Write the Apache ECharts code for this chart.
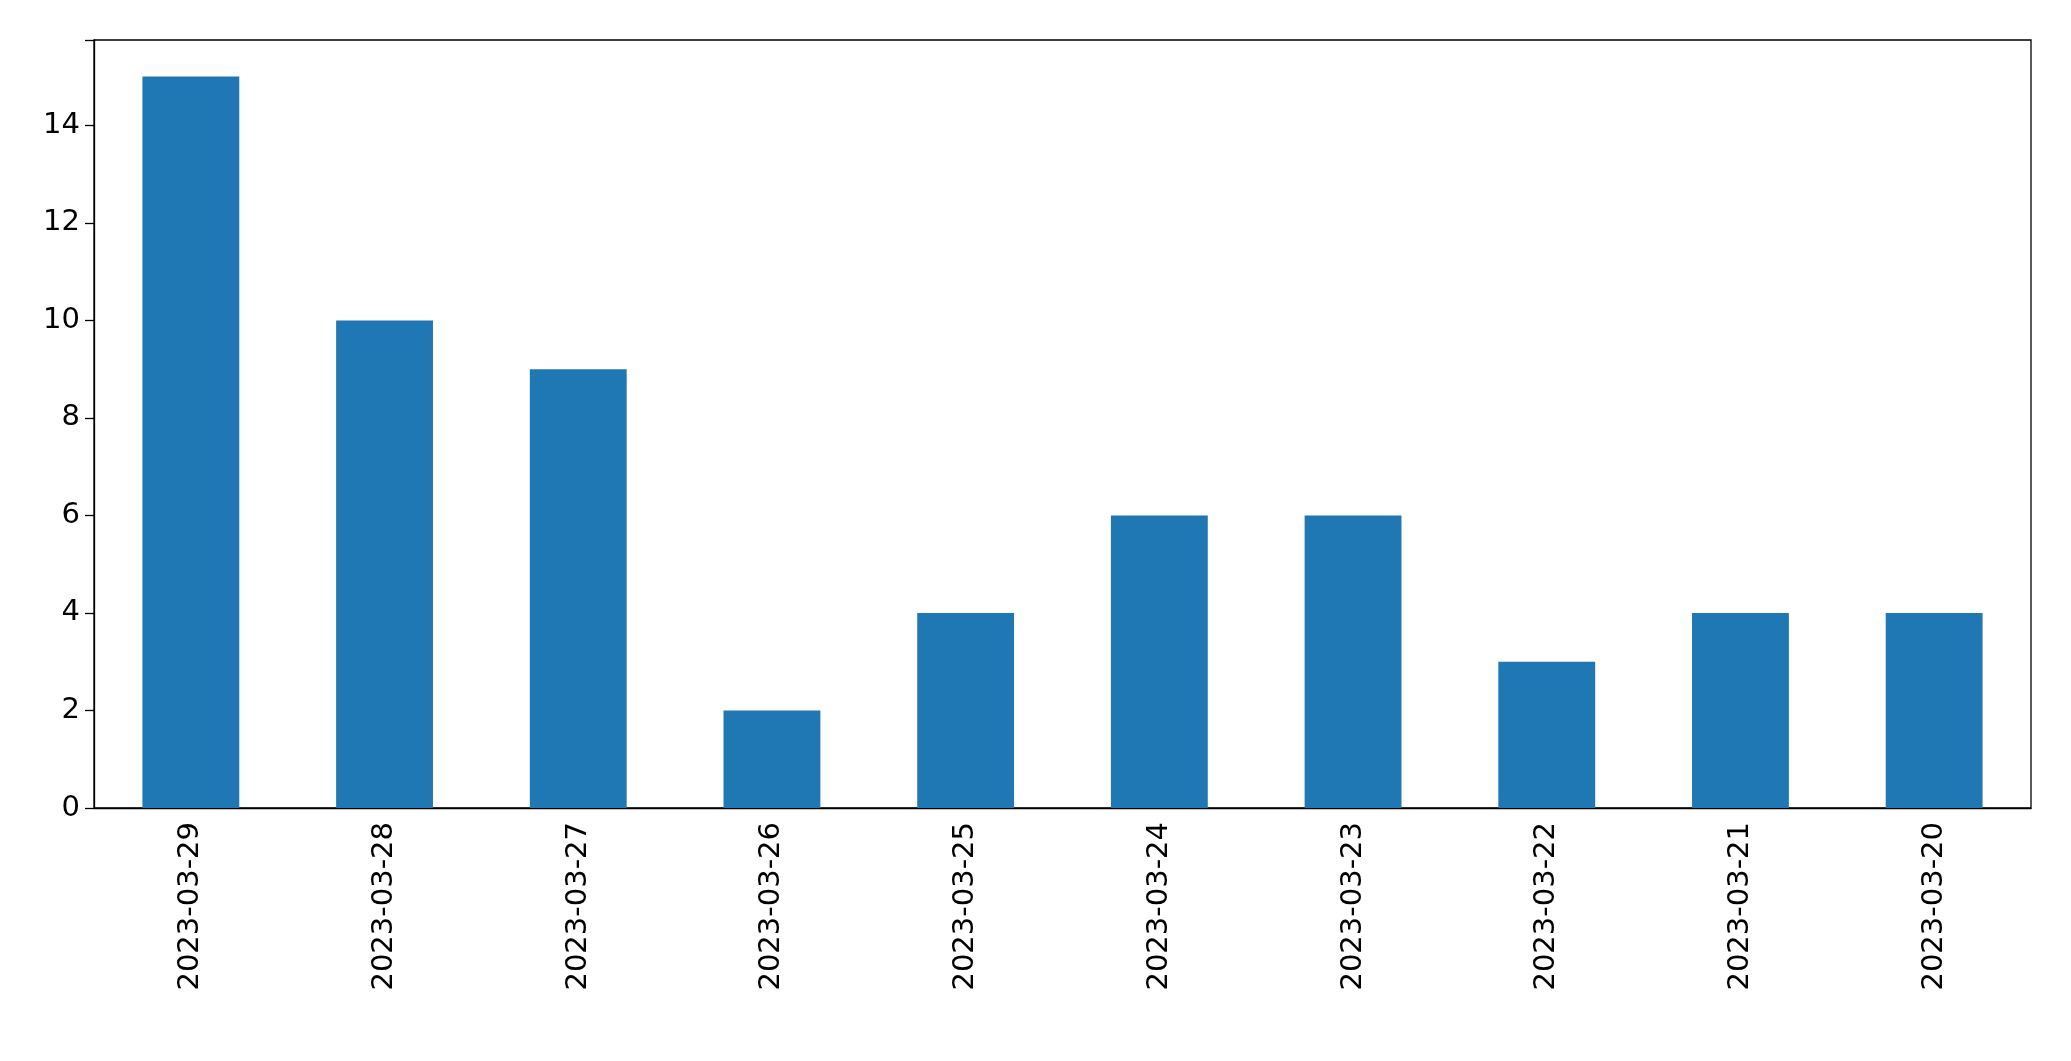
<!DOCTYPE html>
<html>
<head>
<meta charset="utf-8">
<script src="https://cdn.jsdelivr.net/npm/echarts@6/dist/echarts.min.js"></script>
<style>html,body{margin:0;padding:0;background:#fff}#main{width:2071px;height:1061px}</style>
</head>
<body>
<div id="main"></div>
<script>
// 日期与数量
var dates = ['2023-03-29','2023-03-28','2023-03-27','2023-03-26','2023-03-25','2023-03-24','2023-03-23','2023-03-22','2023-03-21','2023-03-20'];
var counts = [15, 10, 9, 2, 4, 6, 6, 3, 4, 4];

var chart = echarts.init(document.getElementById('main'));
chart.setOption({
    animation: false,
    grid: {
        left: 94, right: 40, top: 40, bottom: 253,
        show: true, borderColor: '#000', borderWidth: 1.3, backgroundColor: '#fff'
    },
    xAxis: {
        type: 'category',
        data: dates,
        axisLine: { lineStyle: { color: '#000', width: 1.3 } },
        axisTick: { alignWithLabel: true, length: 9, lineStyle: { color: '#000', width: 1.3 } },
        axisLabel: { rotate: 90, color: '#000', fontSize: 29, fontFamily: 'DejaVu Sans', margin: 14 }
    },
    yAxis: {
        type: 'value',
        min: 0, max: 15.75, interval: 2,
        splitLine: { show: false },
        axisLine: { show: true, lineStyle: { color: '#000', width: 1.3 } },
        axisTick: { show: true, length: 9, lineStyle: { color: '#000', width: 1.3 } },
        axisLabel: {
            color: '#000', fontSize: 29, fontFamily: 'DejaVu Sans', margin: 14,
            formatter: function (v) { return v % 2 === 0 ? String(v) : ''; }
        }
    },
    series: [{
        type: 'bar',
        data: counts,
        barWidth: '50%',
        itemStyle: { color: '#1f77b4' }
    }]
});
</script>
</body>
</html>
